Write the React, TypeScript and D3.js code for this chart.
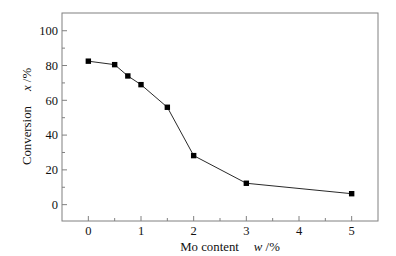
import React from "react";
import * as d3 from "d3";

const moContent = [0, 0.5, 0.75, 1, 1.5, 2, 3, 5];
const conversion = [82.5, 80.5, 74, 69, 56, 28.2, 12.3, 6.3];
const xTicks = [0, 1, 2, 3, 4, 5];
const xMinorTicks = [0.5, 1.5, 2.5, 3.5, 4.5];
const yTicks = [0, 20, 40, 60, 80, 100];
const yMinorTicks = [10, 30, 50, 70, 90];

const W = 396, H = 256;
const L = 62, R = 378, T = 13, B = 221;
const FONT = "'Liberation Serif', 'Times New Roman', serif";
const AX = "#808080";

export default function App() {
  const x = d3.scaleLinear().domain([-0.5, 5.5]).range([L, R]);
  const y = d3.scaleLinear().domain([-9.4, 110.2]).range([B, T]);
  const pts = moContent.map((m, i) => [m, conversion[i]] as [number, number]);
  const line = d3.line<[number, number]>().x(d => x(d[0])).y(d => y(d[1]));
  return (
    <svg width={W} height={H} style={{ position: "absolute", left: 0, top: 0, background: "#fff" }}>
      <rect x={L} y={T} width={R - L} height={B - T} fill="none" stroke={AX} strokeWidth={1} />
      {yTicks.map(t => (
        <g key={"y" + t}>
          <line x1={L} x2={L + 5} y1={y(t)} y2={y(t)} stroke={AX} />
          <text x={L - 4} y={y(t)} dy="0.35em" textAnchor="end" fontFamily={FONT} fontSize={12.5} fill="#111">{t}</text>
        </g>
      ))}
      {yMinorTicks.map(t => (
        <line key={"ym" + t} x1={L} x2={L + 3} y1={y(t)} y2={y(t)} stroke={AX} />
      ))}
      {xTicks.map(t => (
        <g key={"x" + t}>
          <line x1={x(t)} x2={x(t)} y1={B} y2={B - 5} stroke={AX} />
          <text x={x(t)} y={B + 14} textAnchor="middle" fontFamily={FONT} fontSize={12.5} fill="#111">{t}</text>
        </g>
      ))}
      {xMinorTicks.map(t => (
        <line key={"xm" + t} x1={x(t)} x2={x(t)} y1={B} y2={B - 3} stroke={AX} />
      ))}
      <path d={line(pts) || ""} fill="none" stroke="#111" strokeWidth={0.9} />
      {pts.map((p, i) => (
        <rect key={i} x={x(p[0]) - 2.7} y={y(p[1]) - 2.7} width={5.4} height={5.4} fill="#000" />
      ))}
      <text x={230} y={251} textAnchor="middle" fontFamily={FONT} fontSize={12.8} fill="#111">
        Mo content<tspan dx={15} fontStyle="italic">w</tspan> /%
      </text>
      <text transform={`translate(31,${116.5}) rotate(-90)`} textAnchor="middle" fontFamily={FONT} fontSize={12.8} fill="#111">
        Conversion<tspan dx={15} fontStyle="italic">x</tspan> /%
      </text>
    </svg>
  );
}
